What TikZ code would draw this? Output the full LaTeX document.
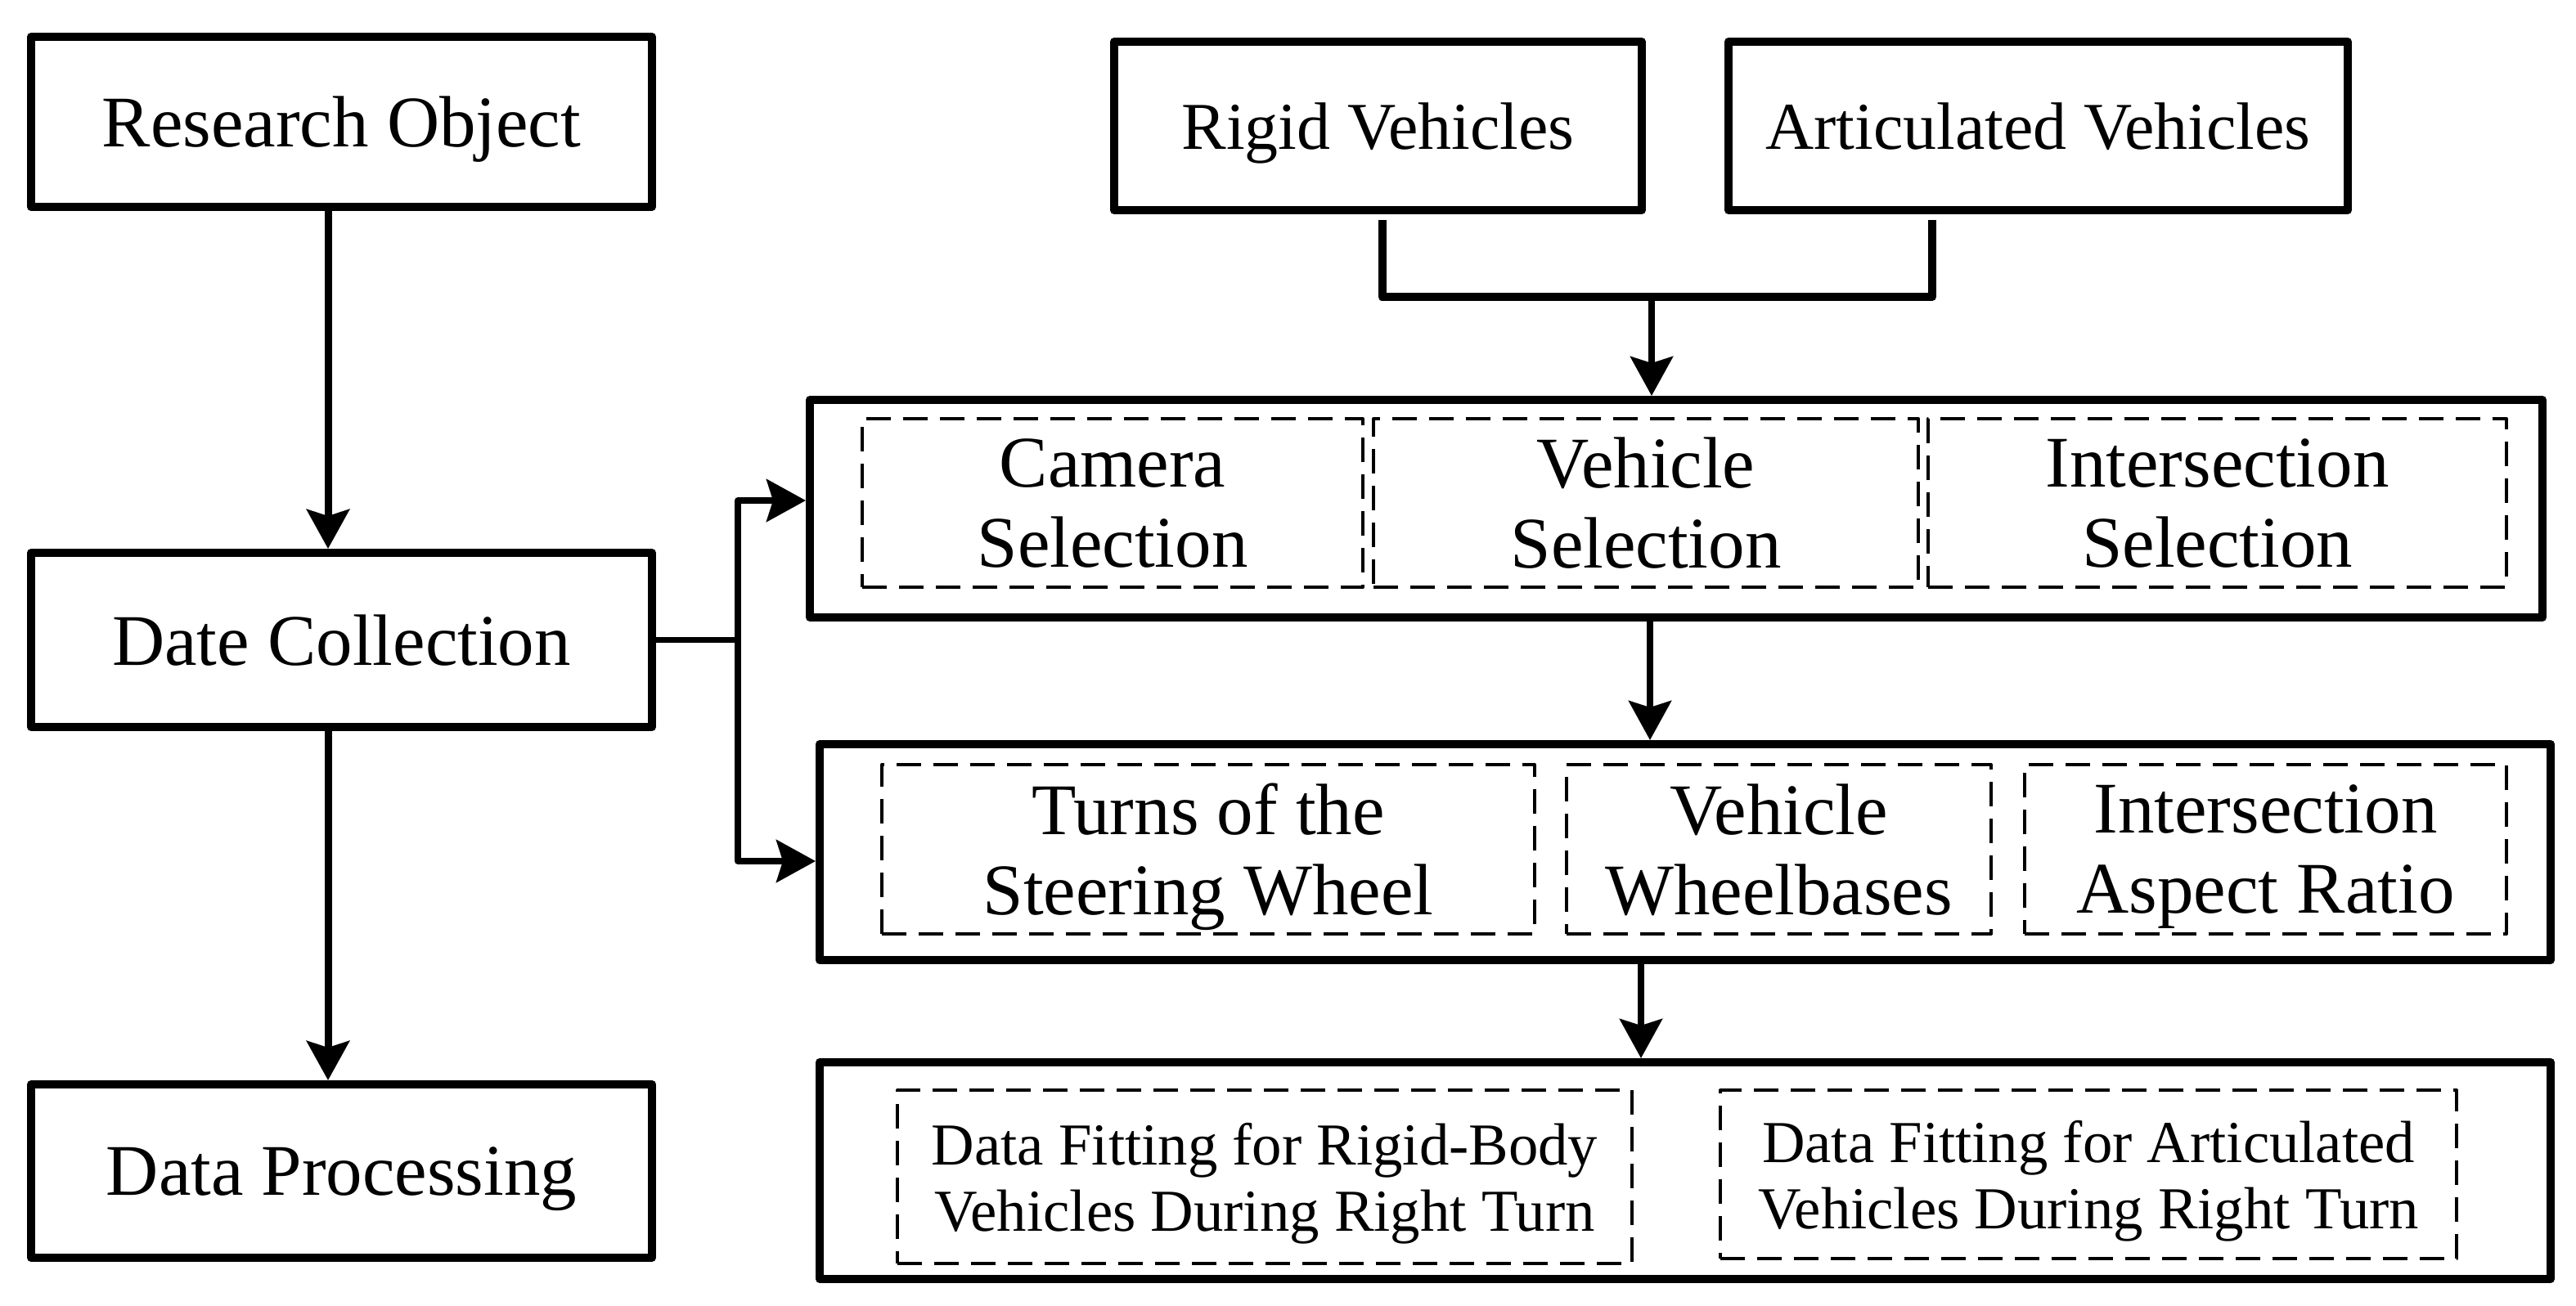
\documentclass[tikz,border=0pt]{standalone}
\usepackage{fontspec}
\setmainfont{Liberation Serif}
\usetikzlibrary{arrows.meta}

\begin{document}
\begin{tikzpicture}
  [line join=round,
   box/.style={draw,line width=0.1cm,align=center,inner sep=0pt,text depth=0pt,font=\fontsize{25.3}{27.9}\selectfont},
   vbox/.style={box,font=\fontsize{23.3}{27.9}\selectfont},
   dbox/.style={draw,line width=0.04cm,dash pattern=on 0.3cm off 0.15cm,align=center,inner sep=0pt,text depth=0pt,font=\fontsize{25.3}{27.9}\selectfont},
   sbox/.style={dbox,font=\fontsize{20.7}{23}\selectfont},
   arr/.style={line width=0.09cm,-{Stealth[length=0.48cm,width=0.52cm,inset=0.08cm]}},
   rarr/.style={arr,line width=0.075cm},
   brk/.style={line width=0.1cm}]
  \useasboundingbox (0,0) rectangle (31.49,-15.96);

  % left column
  \node[box,minimum width=7.59cm,minimum height=2.08cm] (ro) at (4.175,-1.49) {Research Object};
  \node[box,minimum width=7.59cm,minimum height=2.13cm] (dc) at (4.175,-7.825) {Date Collection};
  \node[box,minimum width=7.59cm,minimum height=2.12cm] (dp) at (4.175,-14.32) {Data Processing};

  % vehicle types
  \node[vbox,minimum width=6.45cm,minimum height=2.06cm] (rv) at (16.845,-1.54) {Rigid Vehicles};
  \node[vbox,minimum width=7.57cm,minimum height=2.06cm] (av) at (24.915,-1.54) {Articulated Vehicles};

  % outer frames
  \node[box,minimum width=21.18cm,minimum height=2.66cm] (sel) at (20.49,-6.22) {};
  \node[box,minimum width=21.16cm,minimum height=2.64cm] (par) at (20.60,-10.42) {};
  \node[box,minimum width=21.16cm,minimum height=2.65cm] (fit) at (20.60,-14.315) {};

  % selection
  \node[dbox,minimum width=6.12cm,minimum height=2.06cm] (cam) at (13.60,-6.15) {Camera\\Selection};
  \node[dbox,minimum width=6.66cm,minimum height=2.06cm] (vsel) at (20.12,-6.15) {Vehicle\\Selection};
  \node[dbox,minimum width=7.07cm,minimum height=2.06cm] (isel) at (27.105,-6.15) {Intersection\\Selection};

  % parameters
  \node[dbox,minimum width=7.98cm,minimum height=2.07cm] (turns) at (14.77,-10.385) {Turns of the\\Steering Wheel};
  \node[dbox,minimum width=5.19cm,minimum height=2.07cm] (wb) at (21.745,-10.385) {Vehicle\\Wheelbases};
  \node[dbox,minimum width=5.89cm,minimum height=2.07cm] (asp) at (27.695,-10.385) {Intersection\\Aspect Ratio};

  % fitting
  \node[sbox,minimum width=8.98cm,minimum height=2.12cm] (rfit) at (15.46,-14.39) {Data Fitting for Rigid-Body\\Vehicles During Right Turn};
  \node[sbox,minimum width=9.00cm,minimum height=2.06cm] (afit) at (25.53,-14.36) {Data Fitting for Articulated\\Vehicles During Right Turn};

  % left arrows
  \coordinate (l1) at ([xshift=-0.165cm]ro.south);
  \coordinate (l2) at ([xshift=-0.165cm]dc.south);
  \draw[arr] (l1) -- (l1 |- dc.north);
  \draw[arr] (l2) -- (l2 |- dp.north);

  % fork to the right
  \coordinate (fk) at ([xshift=1.0cm]dc.east);
  \draw[line width=0.075cm] (dc.east) -- (fk);
  \draw[rarr] (fk) |- ([yshift=0.1cm]sel.west);
  \draw[rarr] (fk) |- ([yshift=-0.11cm]par.west);

  % bracket
  \coordinate (j) at (20.19,-3.63);
  \draw[brk] ([xshift=0.05cm,yshift=-0.07cm]rv.south) |- (j) -| ([xshift=-1.295cm,yshift=-0.07cm]av.south);
  \draw[rarr] (j) -- (j |- sel.north);

  % down the right
  \coordinate (s1) at ([xshift=-0.32cm]sel.south);
  \coordinate (s2) at ([xshift=-0.54cm]par.south);
  \draw[rarr] (s1) -- (s1 |- par.north);
  \draw[rarr] (s2) -- (s2 |- fit.north);
\end{tikzpicture}
\end{document}
